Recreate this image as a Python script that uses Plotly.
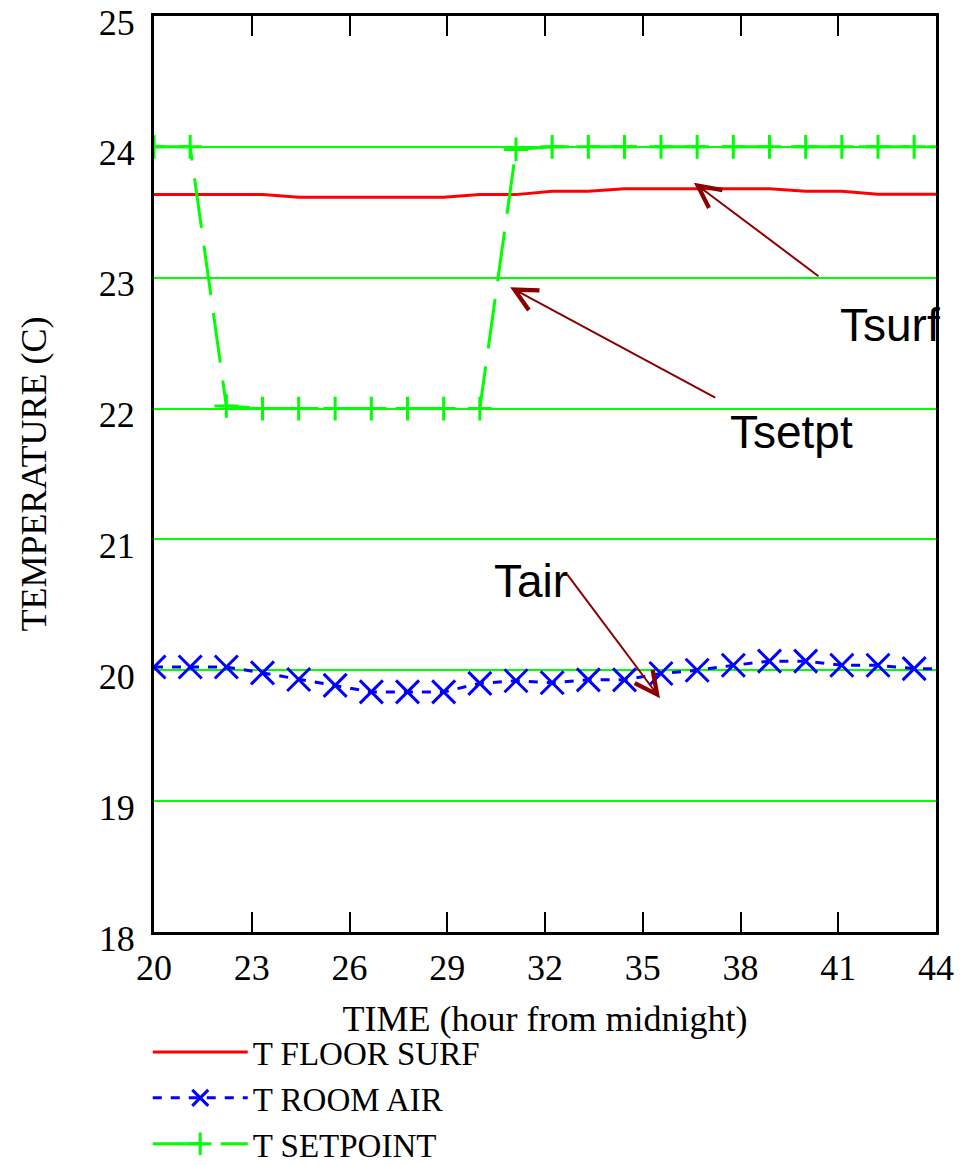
import plotly.graph_objects as go

# ---- data ----
time_h = [20.0, 21.11, 22.22, 23.33, 24.44, 25.56, 26.67, 27.78, 28.89, 30.0, 31.11,
          32.22, 33.33, 34.44, 35.56, 36.67, 37.78, 38.89, 40.0, 41.11, 42.22, 43.33, 44.44]
t_floor_surf = [23.635, 23.635, 23.635, 23.635, 23.615, 23.615, 23.615, 23.615, 23.615, 23.635, 23.635,
                23.66, 23.66, 23.68, 23.68, 23.68, 23.68, 23.68, 23.66, 23.66, 23.637, 23.637, 23.637]
t_room_air = [20.025, 20.025, 20.025, 19.98, 19.93, 19.885, 19.835, 19.835, 19.835, 19.9, 19.92,
              19.905, 19.927, 19.927, 19.975, 20.0, 20.038, 20.07, 20.07, 20.038, 20.038, 20.013, 20.01]
t_setpoint = [24.0, 24.0, 22.02, 22.0, 22.0, 22.0, 22.0, 22.0, 22.0, 22.0, 23.98,
              24.0, 24.0, 24.0, 24.0, 24.0, 24.0, 24.0, 24.0, 24.0, 24.0, 24.0, 24.0]

x_ticks = [20, 23, 26, 29, 32, 35, 38, 41, 44]
y_ticks = [18, 19, 20, 21, 22, 23, 24, 25]

series_names = ["T FLOOR SURF", "T ROOM AIR", "T SETPOINT"]

# annotation labels: (text, x, y)
labels = [("Tsurf", 42.59, 22.64), ("Tsetpt", 39.58, 21.82), ("Tair", 31.57, 20.68)]
# arrows: (head x, head y, tail x, tail y)
arrows = [(36.57, 23.726, 40.44, 23.003),
          (30.93, 22.927, 37.27, 22.078),
          (35.53, 19.786, 32.64, 20.746)]

SERIF = "Liberation Serif, Times New Roman, serif"
SANS = "Liberation Sans, Arial, sans-serif"

fig = go.Figure()

fig.add_trace(go.Scatter(
    x=time_h, y=t_floor_surf, name=series_names[0], mode="lines",
    line=dict(color="#ff0000", width=3)))

fig.add_trace(go.Scatter(
    x=time_h, y=t_room_air, name=series_names[1], mode="lines+markers",
    line=dict(color="#0000ff", width=3, dash="9px,9px"),
    marker=dict(symbol="x-thin", size=23, line=dict(color="#0000ff", width=3))))

fig.add_trace(go.Scatter(
    x=time_h, y=t_setpoint, name=series_names[2], mode="lines+markers",
    line=dict(color="#00ff00", width=3, dash="50px,18px"),
    marker=dict(symbol="cross-thin", size=17, line=dict(color="#00ff00", width=3))))

annotations = []
for text, x, y in labels:
    annotations.append(dict(x=x, y=y, xref="x", yref="y", text=text, showarrow=False,
                            font=dict(family=SANS, size=46, color="black"),
                            xanchor="center", yanchor="middle"))
for hx, hy, tx, ty in arrows:
    annotations.append(dict(x=hx, y=hy, xref="x", yref="y", ax=tx, ay=ty,
                            axref="x", ayref="y", text="", showarrow=True,
                            arrowhead=5, arrowsize=2.2, arrowwidth=2,
                            arrowcolor="#8b0000", standoff=0, startstandoff=0))

# the page body adds an 8px offset, so the figure is drawn 8px smaller
fig.update_layout(
    width=956, height=1157,
    margin=dict(l=146, r=28, t=8, b=233, autoexpand=False),
    paper_bgcolor="white", plot_bgcolor="white",
    font=dict(family=SERIF, size=36, color="black"),
    annotations=annotations,
    showlegend=True,
    legend=dict(orientation="v", x=-0.008, xanchor="left", y=-0.1004, yanchor="top",
                font=dict(family=SERIF, size=33, color="black"),
                bgcolor="rgba(0,0,0,0)", itemwidth=95, tracegroupgap=0),
    xaxis=dict(range=[20, 44], tickvals=x_ticks, ticks="inside", ticklen=20, tickwidth=2,
               tickcolor="black", showline=True, linecolor="black", linewidth=3,
               mirror="ticks", showgrid=False, zeroline=False, ticklabelstandoff=2,
               automargin=False, ticklabeloverflow="allow",
               title=dict(text="TIME (hour from midnight)", standoff=19,
                          font=dict(family=SERIF, size=36))),
    yaxis=dict(range=[18, 25], tickvals=y_ticks, ticks="", showline=True, linecolor="black",
               linewidth=3, mirror=True, showgrid=True, gridcolor="#00ff00", gridwidth=1.5,
               zeroline=False, ticklabelstandoff=9, ticklabelshift=6, automargin=False,
               ticklabeloverflow="allow",
               title=dict(text="TEMPERATURE (C)", standoff=42,
                          font=dict(family=SERIF, size=36))),
)

fig.write_html("out.html")
